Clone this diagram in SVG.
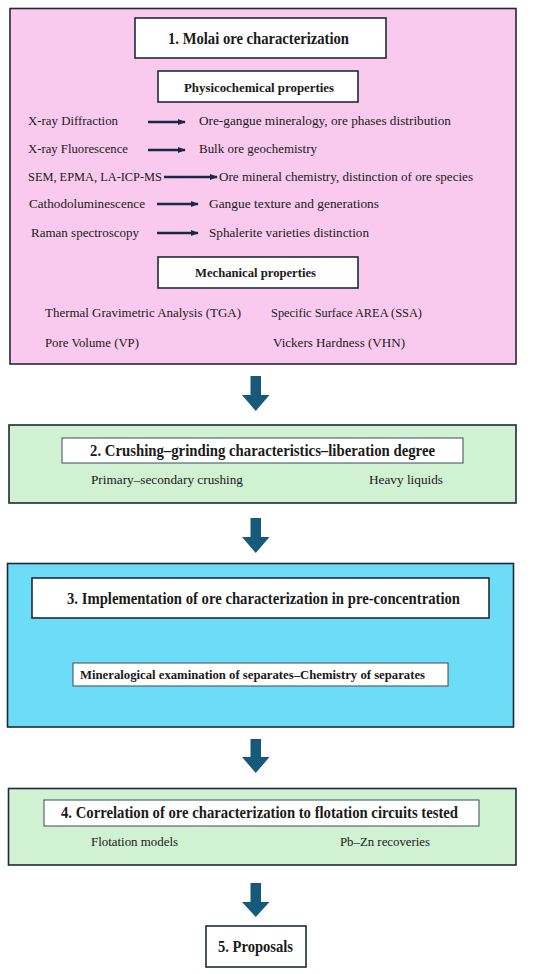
<svg xmlns="http://www.w3.org/2000/svg" width="550" height="974" viewBox="0 0 550 974">
<style>
.bg{fill:#ffffff}
.frame{stroke:#1e2a3a;stroke-width:1.6}
.pink{fill:#f9caee}
.green{fill:#d0f1d2}
.blue{fill:#6ddcf6}
.wbox{fill:#ffffff;stroke:#1e2a3a;stroke-width:1.6}
.thin{fill:#ffffff;stroke:#3a4a5a;stroke-width:1}
text{font-family:"Liberation Serif","Times New Roman",serif;fill:#1a1a1a}
.t{font-size:16px;font-weight:bold}
.h{font-size:13.5px;font-weight:bold}
.b{font-size:13.5px}
.big{fill:#17597b}
.sa{stroke:#1b2a44;stroke-width:2.6;fill:none;marker-end:url(#ah)}
</style>
<defs>
<marker id="ah" viewBox="0 0 10 10" refX="9" refY="5" markerWidth="3" markerHeight="3" orient="auto" markerUnits="strokeWidth">
<path d="M0,1 L10,5 L0,9 Z" fill="#1b2a44"/>
</marker>
</defs>
<rect class="bg" x="0" y="0" width="550" height="974"/>

<g id="node1">
<rect class="frame pink" x="10" y="8.5" width="506" height="355.5"/>
<rect class="wbox" x="135" y="18" width="251" height="40"/>
<text class="t" x="168" y="43.5" textLength="181" lengthAdjust="spacingAndGlyphs">1. Molai ore characterization</text>
<rect class="wbox" x="158" y="71" width="200" height="31"/>
<text class="h" x="184" y="92" textLength="150" lengthAdjust="spacingAndGlyphs">Physicochemical properties</text>
<text class="b" x="28" y="125" textLength="90" lengthAdjust="spacingAndGlyphs">X-ray Diffraction</text>
<text class="b" x="199" y="125" textLength="252" lengthAdjust="spacingAndGlyphs">Ore-gangue mineralogy, ore phases distribution</text>
<text class="b" x="28" y="153" textLength="100" lengthAdjust="spacingAndGlyphs">X-ray Fluorescence</text>
<text class="b" x="199" y="153" textLength="118" lengthAdjust="spacingAndGlyphs">Bulk ore geochemistry</text>
<text class="b" x="28" y="181" textLength="134" lengthAdjust="spacingAndGlyphs">SEM, EPMA, LA-ICP-MS</text>
<text class="b" x="219" y="181" textLength="254" lengthAdjust="spacingAndGlyphs">Ore mineral chemistry, distinction of ore species</text>
<text class="b" x="29" y="208" textLength="116" lengthAdjust="spacingAndGlyphs">Cathodoluminescence</text>
<text class="b" x="209" y="208" textLength="170" lengthAdjust="spacingAndGlyphs">Gangue texture and generations</text>
<text class="b" x="31" y="237" textLength="108" lengthAdjust="spacingAndGlyphs">Raman spectroscopy</text>
<text class="b" x="209" y="237" textLength="160" lengthAdjust="spacingAndGlyphs">Sphalerite varieties distinction</text>
<rect class="wbox" x="158" y="257" width="200" height="31"/>
<text class="h" x="195" y="277" textLength="121" lengthAdjust="spacingAndGlyphs">Mechanical properties</text>
<text class="b" x="45" y="317" textLength="196" lengthAdjust="spacingAndGlyphs">Thermal Gravimetric Analysis (TGA)</text>
<text class="b" x="271" y="317" textLength="151" lengthAdjust="spacingAndGlyphs">Specific Surface AREA (SSA)</text>
<text class="b" x="45" y="347" textLength="94" lengthAdjust="spacingAndGlyphs">Pore Volume (VP)</text>
<text class="b" x="273" y="347" textLength="132" lengthAdjust="spacingAndGlyphs">Vickers Hardness (VHN)</text>
</g>

<g id="node2">
<rect class="frame green" x="9" y="425" width="507" height="78"/>
<rect class="thin" x="62" y="438" width="401" height="25"/>
<text class="t" x="90" y="456" textLength="345" lengthAdjust="spacingAndGlyphs">2. Crushing–grinding characteristics–liberation degree</text>
<text class="b" x="91" y="484" textLength="152" lengthAdjust="spacingAndGlyphs">Primary–secondary crushing</text>
<text class="b" x="369" y="484" textLength="74" lengthAdjust="spacingAndGlyphs">Heavy liquids</text>
</g>

<g id="node3">
<rect class="frame blue" x="7.5" y="563.5" width="506" height="163.5"/>
<rect class="wbox" x="32" y="578" width="457" height="40"/>
<text class="t" x="67" y="604" textLength="393" lengthAdjust="spacingAndGlyphs">3. Implementation of ore characterization in pre-concentration</text>
<rect class="thin" x="73" y="663" width="375" height="23"/>
<text class="h" x="80" y="679" textLength="345" lengthAdjust="spacingAndGlyphs">Mineralogical examination of separates–Chemistry of separates</text>
</g>

<g id="node4">
<rect class="frame green" x="8.5" y="788.5" width="507.5" height="76.5"/>
<rect class="thin" x="44" y="800" width="435" height="26"/>
<text class="t" x="61" y="818" textLength="397" lengthAdjust="spacingAndGlyphs">4. Correlation of ore characterization to flotation circuits tested</text>
<text class="b" x="91" y="846" textLength="87" lengthAdjust="spacingAndGlyphs">Flotation models</text>
<text class="b" x="340" y="846" textLength="90" lengthAdjust="spacingAndGlyphs">Pb–Zn recoveries</text>
</g>

<g id="node5">
<rect class="wbox" x="206" y="926" width="100" height="41"/>
<text class="t" x="218" y="952" textLength="75" lengthAdjust="spacingAndGlyphs">5. Proposals</text>
</g>

<g id="connectors">
<line class="sa" x1="148" y1="122" x2="185" y2="122"/>
<line class="sa" x1="148" y1="150" x2="185" y2="150"/>
<line class="sa" x1="164" y1="177" x2="217" y2="177"/>
<line class="sa" x1="157" y1="204" x2="198" y2="204"/>
<line class="sa" x1="157" y1="233" x2="198" y2="233"/>
<path class="big" d="M250.5,376 H261 V395 H269.5 L255.75,411 L242,395 H250.5 Z"/>
<path class="big" d="M250.5,518 H261 V537 H269.5 L255.75,553 L242,537 H250.5 Z"/>
<path class="big" d="M250.5,739 H261 V757 H269.5 L255.75,773 L242,757 H250.5 Z"/>
<path class="big" d="M250.5,883 H261 V902 H269.5 L255.75,917 L242,902 H250.5 Z"/>
</g>
</svg>
